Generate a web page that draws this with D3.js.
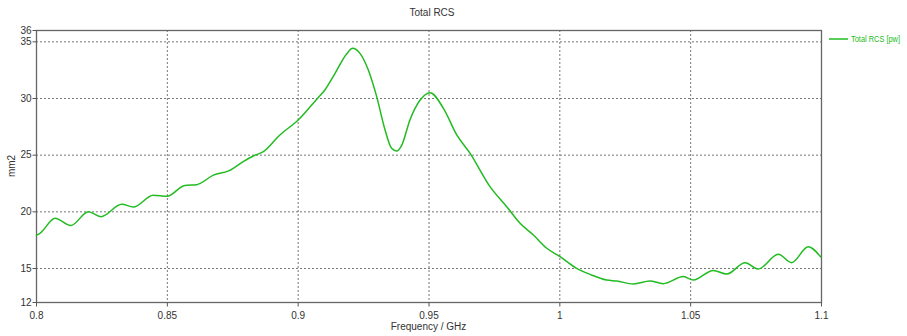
<!DOCTYPE html>
<html>
<head>
<meta charset="utf-8">
<script src="https://cdn.jsdelivr.net/npm/d3@7"></script>
<style>
  body { margin: 0; background: #fff; overflow: hidden; }
  text { font-family: "Liberation Sans", Arial, sans-serif; }
</style>
</head>
<body>
<div id="chart"></div>
<script>
// frequency in GHz, RCS in mm2
const freq = [0.8, 0.8015, 0.8073, 0.8133, 0.8200, 0.8248, 0.8328, 0.8372, 0.8448, 0.8500,
  0.8569, 0.8614, 0.8678, 0.8739, 0.8792, 0.8830, 0.8869, 0.8932, 0.9002, 0.9073,
  0.9104, 0.9143, 0.9187, 0.9210, 0.9238, 0.9270, 0.9302, 0.9334, 0.9359, 0.9378,
  0.9398, 0.9429, 0.9468, 0.9506, 0.9557, 0.9608, 0.9659, 0.9735, 0.9799, 0.9850,
  0.9901, 0.9952, 1.0003, 1.0066, 1.0117, 1.0181, 1.0219, 1.0283, 1.0346, 1.0397,
  1.0474, 1.0512, 1.0588, 1.0640, 1.0710, 1.0760, 1.0837, 1.0888, 1.0951, 1.1];
const rcs = [17.88, 18.06, 19.39, 18.74, 19.97, 19.53, 20.62, 20.38, 21.41, 21.32,
  22.29, 22.35, 23.2, 23.59, 24.38, 24.88, 25.26, 26.74, 28.06, 29.9,
  30.71, 32.18, 33.88, 34.38, 33.94, 32.47, 30.12, 27.18, 25.56, 25.32,
  25.85, 28.06, 29.82, 30.47, 29.09, 26.74, 25.12, 22.18, 20.41, 18.94,
  17.91, 16.74, 16.0, 14.97, 14.44, 13.94, 13.85, 13.59, 13.85, 13.62,
  14.24, 13.94, 14.79, 14.47, 15.47, 14.91, 16.21, 15.47, 16.88, 15.94];

const xTicks = [0.8, 0.85, 0.9, 0.95, 1, 1.05, 1.1];
const yTicks = [12, 15, 20, 25, 30, 35, 36];
const yGrid = [15, 20, 25, 30, 35];
const xGrid = [0.85, 0.9, 0.95, 1, 1.05];
const seriesName = "Total RCS [pw]";

const width = 907, height = 336;
const margin = { top: 30, right: 86, bottom: 34, left: 36 };
const green = "#22bb22";

const svg = d3.select("#chart").append("svg")
  .attr("width", width)
  .attr("height", height);

const x = d3.scaleLinear()
  .domain([0.8, 1.1])
  .range([margin.left, width - margin.right]);

const y = d3.scaleLinear()
  .domain([12, 36])
  .range([height - margin.bottom, margin.top]);

// grid
svg.append("g").selectAll("line").data(yGrid).join("line")
  .attr("x1", margin.left).attr("x2", width - margin.right)
  .attr("y1", d => y(d) + 0.5).attr("y2", d => y(d) + 0.5)
  .attr("stroke", "#777").attr("stroke-dasharray", "2,2");

svg.append("g").selectAll("line").data(xGrid).join("line")
  .attr("y1", margin.top).attr("y2", height - margin.bottom)
  .attr("x1", d => x(d) + 0.5).attr("x2", d => x(d) + 0.5)
  .attr("stroke", "#777").attr("stroke-dasharray", "2,2");

// frame
svg.append("rect")
  .attr("x", margin.left + 0.5).attr("y", margin.top + 0.5)
  .attr("width", width - margin.left - margin.right)
  .attr("height", height - margin.top - margin.bottom)
  .attr("fill", "none").attr("stroke", "#666").attr("stroke-width", 1.3);

const xAxis = g => g
  .attr("transform", `translate(0,${height - margin.bottom + 0.5})`)
  .call(d3.axisBottom(x).tickValues(xTicks).tickFormat(d3.format("")).tickSize(4).tickSizeOuter(0))
  .call(g => g.select(".domain").remove())
  .call(g => g.selectAll(".tick line").attr("stroke", "#555"))
  .call(g => g.selectAll(".tick text").attr("fill", "#333").attr("font-size", 10).attr("dy", "0.9em"));

const yAxis = g => g
  .attr("transform", `translate(${margin.left + 0.5},0)`)
  .call(d3.axisLeft(y).tickValues(yTicks).tickSize(4).tickSizeOuter(0))
  .call(g => g.select(".domain").remove())
  .call(g => g.selectAll(".tick line").attr("stroke", "#555"))
  .call(g => g.selectAll(".tick text").attr("fill", "#333").attr("font-size", 10).attr("x", -5));

svg.append("g").call(xAxis);
svg.append("g").call(yAxis);

// curve
const line = d3.line()
  .curve(d3.curveMonotoneX)
  .x((d, i) => x(freq[i]))
  .y(d => y(d));

svg.append("path")
  .datum(rcs)
  .attr("fill", "none")
  .attr("stroke", green)
  .attr("stroke-width", 1.5)
  .attr("stroke-linejoin", "round")
  .attr("d", line);

// titles
svg.append("text")
  .attr("x", 432).attr("y", 16)
  .attr("text-anchor", "middle")
  .attr("font-size", 10).attr("fill", "#333")
  .text("Total RCS");

svg.append("text")
  .attr("x", (margin.left + width - margin.right) / 2).attr("y", 330)
  .attr("text-anchor", "middle")
  .attr("font-size", 10).attr("fill", "#333")
  .text("Frequency / GHz");

svg.append("text")
  .attr("transform", `translate(15,${(margin.top + height - margin.bottom) / 2}) rotate(-90)`)
  .attr("text-anchor", "middle")
  .attr("font-size", 10).attr("fill", "#333")
  .text("mm2");

// legend (squeezed so the whole label fits the window)
const lg = svg.append("g").attr("transform", `translate(${width - margin.right + 8},39)`);
lg.append("line").attr("x1", 0).attr("x2", 19).attr("stroke", green).attr("stroke-width", 1.5);
lg.append("text").attr("x", 22).attr("dy", "0.35em")
  .attr("font-size", 9).attr("fill", green)
  .attr("textLength", 49).attr("lengthAdjust", "spacingAndGlyphs")
  .text(seriesName);
</script>
</body>
</html>
